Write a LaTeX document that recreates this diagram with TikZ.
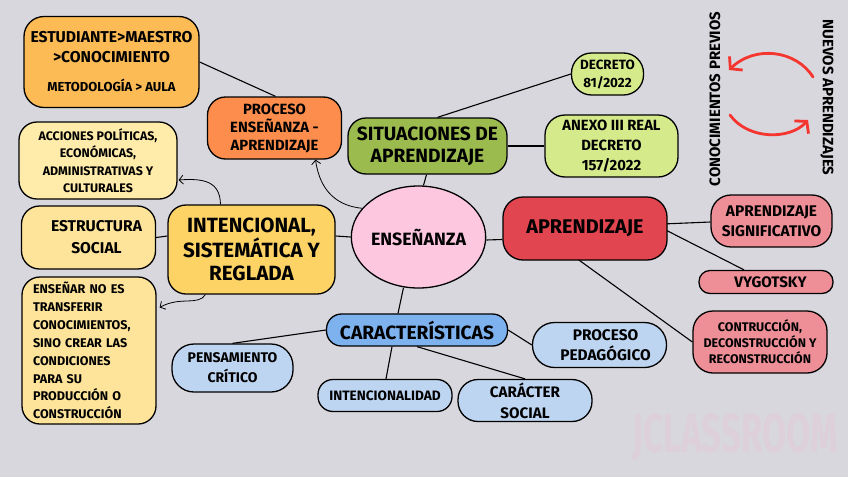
\documentclass[tikz,border=0pt]{standalone}
\usepackage{fontspec}
\setmainfont{Fira Sans}
\usetikzlibrary{arrows.meta,calc,shapes.geometric}
\pgfdeclarelayer{bg}
\pgfdeclarelayer{background}
\pgfsetlayers{bg,background,main}
\definecolor{bgc}{HTML}{D8D7DD}
\definecolor{cest}{HTML}{FDBB56}
\definecolor{cproc}{HTML}{FC8D4C}
\definecolor{cacc}{HTML}{FFEBAA}
\definecolor{cestr}{HTML}{FEE49B}
\definecolor{cint}{HTML}{FDD366}
\definecolor{cens}{HTML}{FDC7E0}
\definecolor{csit}{HTML}{9BBB4E}
\definecolor{cdec}{HTML}{D5EA8B}
\definecolor{capr}{HTML}{E14550}
\definecolor{cpink}{HTML}{EE8F98}
\definecolor{ccar}{HTML}{7DB2EF}
\definecolor{cblue}{HTML}{BED5F1}
\definecolor{cred}{HTML}{F53530}
\definecolor{cwm}{HTML}{DDD0DA}
\newcommand{\fs}[2]{\fontsize{#1}{#2}\selectfont\bfseries}
\tikzset{
  mbox/.style={draw=black, line width=1.3pt, align=center, inner sep=0pt, text=black},
  conn/.style={draw=black, line width=1.1pt},
  carr/.style={draw=black, line width=0.8pt, -{Straight Barb[length=4pt,width=9pt]}},
  redarr/.style={draw=cred, line width=2.8pt, line cap=round, -{Straight Barb[length=8pt,width=19pt]}}
}
\begin{document}
\begin{tikzpicture}[x=1pt,y=-1pt]
\begin{pgfonlayer}{bg}
\fill[bgc] (0,0) rectangle (848,477);
\end{pgfonlayer}
\useasboundingbox (0,0) rectangle (848,477);

% watermark
\node[text=cwm, inner sep=0pt] (wm) at (735,438) {\resizebox{206pt}{39pt}{\fs{40}{40}JCLASSROOM}};

% nodes
\node[mbox, fill=cest, rounded corners=20pt, minimum width=175pt, minimum height=91pt, font=\fs{15.7}{20}] (est) at (111.5,62)
  {ESTUDIANTE>MAESTRO\\>CONOCIMIENTO\\[9pt]\fs{13}{14}METODOLOGÍA > AULA};
\node[mbox, fill=cproc, rounded corners=18pt, minimum width=134pt, minimum height=62pt, font=\fs{14.8}{18}] (proc) at (274.5,128)
  {PROCESO\\ENSEÑANZA -\\APRENDIZAJE};
\node[mbox, fill=cacc, rounded corners=18pt, minimum width=158pt, minimum height=77pt, font=\fs{12.4}{17.5}] (acc) at (98,160.5)
  {ACCIONES POLÍTICAS,\\ECONÓMICAS,\\ADMINISTRATIVAS Y\\CULTURALES};
\node[mbox, fill=cestr, rounded corners=18pt, minimum width=134pt, minimum height=63pt, font=\fs{15.6}{22}] (estr) at (88.5,237.5)
  {\hspace*{16pt}ESTRUCTURA\\\hspace*{16pt}SOCIAL};
\node[mbox, fill=cint, rounded corners=18pt, minimum width=167pt, minimum height=89pt, font=\fs{20.6}{23}] (int) at (251.5,249.5)
  {INTENCIONAL,\\SISTEMÁTICA Y\\REGLADA};
\node[mbox, fill=cestr, rounded corners=18pt, minimum width=134pt, minimum height=147pt, align=left, text width=112pt, font=\fs{12.6}{17.9}] (ens2) at (89,350.5)
  {ENSEÑAR NO ES\\TRANSFERIR\\CONOCIMIENTOS,\\SINO CREAR LAS\\CONDICIONES\\PARA SU\\PRODUCCIÓN O\\CONSTRUCCIÓN};
\node[mbox, fill=cens, ellipse, minimum width=131pt, minimum height=102pt, font=\fs{17.8}{20}] (ensen) at (418.5,237)
  {ENSEÑANZA};
\node[mbox, fill=csit, rounded corners=18pt, minimum width=159pt, minimum height=56pt, font=\fs{19.2}{22}] (sit) at (427.5,146)
  {SITUACIONES DE\\APRENDIZAJE};
\node[mbox, fill=cdec, rounded corners=20pt, minimum width=72pt, minimum height=42pt, font=\fs{13.4}{18}] (dec) at (607.5,74)
  {DECRETO\\81/2022};
\node[mbox, fill=cdec, rounded corners=20pt, minimum width=133pt, minimum height=62pt, font=\fs{14.8}{20}] (anexo) at (611.5,146)
  {ANEXO III REAL\\DECRETO\\157/2022};
\node[mbox, fill=capr, rounded corners=20pt, minimum width=164pt, minimum height=63pt, font=\fs{19.8}{22}] (apr) at (585,228.5)
  {APRENDIZAJE};
\node[mbox, fill=cpink, rounded corners=20pt, minimum width=121pt, minimum height=52pt, font=\fs{15.4}{20}] (sig) at (771.5,221)
  {APRENDIZAJE\\SIGNIFICATIVO};
\node[mbox, fill=cpink, rounded corners=11pt, minimum width=134pt, minimum height=23pt, font=\fs{15.2}{16}] (vyg) at (766,282)
  {\hspace*{9pt}VYGOTSKY};
\node[mbox, fill=cpink, rounded corners=20pt, minimum width=134pt, minimum height=62pt, font=\fs{12.5}{16}] (con) at (760,342)
  {CONTRUCCIÓN,\\DECONSTRUCCIÓN Y\\RECONSTRUCCIÓN};
\node[mbox, fill=ccar, rounded corners=15pt, minimum width=181pt, minimum height=32pt, font=\fs{19.2}{22}] (car) at (417,330)
  {CARACTERÍSTICAS};
\node[mbox, fill=cblue, rounded corners=22pt, minimum width=134pt, minimum height=45pt, font=\fs{15.4}{20}] (ped) at (599.5,345)
  {\hspace*{12pt}PROCESO\\\hspace*{12pt}PEDAGÓGICO};
\node[mbox, fill=cblue, rounded corners=22pt, minimum width=121pt, minimum height=48pt, font=\fs{14}{20}] (pen) at (232.5,368)
  {PENSAMIENTO\\CRÍTICO};
\node[mbox, fill=cblue, rounded corners=15pt, minimum width=134pt, minimum height=32pt, font=\fs{13.6}{14}] (intl) at (385,395.5)
  {INTENCIONALIDAD};
\node[mbox, fill=cblue, rounded corners=20pt, minimum width=134pt, minimum height=42pt, font=\fs{15.2}{21}] (cs) at (525,400.5)
  {CARÁCTER\\SOCIAL};

% rotated labels
\node[rotate=90, inner sep=0pt, font=\fs{15}{16}] (prev) at (715,99) {CONOCIMIENTOS PREVIOS};
\node[rotate=-90, inner sep=0pt, font=\fs{15}{16}] (nuev) at (827,97.5) {NUEVOS APRENDIZAJES};
\coordinate (ra1) at (813,77);
\coordinate (ra2) at (729,70);
\coordinate (rb1) at (730,115);
\coordinate (rb2) at (808,120);
\draw[redarr] (ra1) .. controls (796,50) and (755,45) .. (ra2);
\draw[redarr] (rb1) .. controls (748,140) and (790,140) .. (rb2);

% connectors
\begin{pgfonlayer}{background}
\draw[conn] (est.east) -- ($(proc.north)+(1,0)$);
\draw[conn] (estr.east) -- ($(int.west)+(0,-13.5)$);
\draw[conn] ($(int.east)+(0,-13.5)$) -- (ensen.west);
\draw[conn] ($(ensen.north)+(5,0)$) -- ($(sit.south)+(-1,0)$);
\draw[conn] ($(sit.north)+(10,0)$) -- (dec.west);
\draw[conn] (sit.east) -- (anexo.west);
\draw[conn] ($(ensen.east)+(0,3)$) -- ($(apr.west)+(0,11)$);
\draw[conn] ($(apr.east)+(-5,-4.5)$) -- ($(sig.west)+(0,1)$);
\draw[conn] ($(apr.east)+(-2,1.5)$) -- ($(vyg.north)+(-22,0)$);
\draw[conn] ($(apr.south)+(-8,-2)$) -- (con.west);
\draw[conn] ($(ensen.south)+(-15,-1)$) -- ($(car.north)+(-19,0)$);
\draw[conn] (car.west) -- (pen.north);
\draw[conn] (car.east) -- (ped.west);
\draw[conn] ($(car.south)+(-25,0)$) -- ($(intl.north)+(1,0)$);
\draw[conn] (car.south) -- (cs.north);
\end{pgfonlayer}
\draw[carr] (ensen.153) .. controls (338,206) and (320,192) .. ($(proc.south)+(41,0)$);
\draw[carr] ($(int.north)+(-31,0)$) .. controls (220,182) and (205,178) .. ($(acc.east)+(1,19.5)$);
\draw[carr] ($(int.south)+(-46,0)$) .. controls (198,306) and (180,296) .. ($(ens2.east)+(3,-43)$);
\end{tikzpicture}
\end{document}
